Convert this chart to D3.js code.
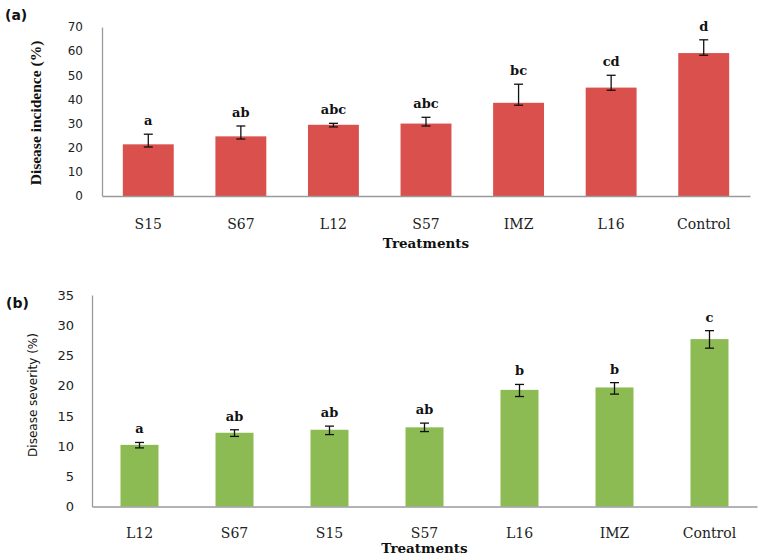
<!DOCTYPE html>
<html>
<head>
<meta charset="utf-8">
<script src="https://cdn.jsdelivr.net/npm/d3@7"></script>
<style>
  body { margin: 0; background: #fff; }
  svg { display: block; }
</style>
</head>
<body>
<div id="chart"></div>
<script>
/* Panel (a): disease incidence */
var catsA = ["S15", "S67", "L12", "S57", "IMZ", "L16", "Control"];
var valsA = [21.4, 24.7, 29.5, 30.0, 38.6, 44.9, 59.2];
var errLoA = [20.3, 23.6, 28.6, 29.0, 37.6, 43.8, 58.3];
var errHiA = [25.6, 29.0, 30.1, 32.6, 46.3, 50.0, 64.7];
var lettersA = ["a", "ab", "abc", "abc", "bc", "cd", "d"];
var ticksA = [0, 10, 20, 30, 40, 50, 60, 70];

/* Panel (b): disease severity */
var catsB = ["L12", "S67", "S15", "S57", "L16", "IMZ", "Control"];
var valsB = [10.2, 12.2, 12.7, 13.1, 19.3, 19.7, 27.7];
var errLoB = [9.7, 11.6, 11.9, 12.4, 18.2, 18.6, 26.2];
var errHiB = [10.6, 12.7, 13.3, 13.8, 20.2, 20.5, 29.1];
var lettersB = ["a", "ab", "ab", "ab", "b", "b", "c"];
var ticksB = [0, 5, 10, 15, 20, 25, 30, 35];

var svg = d3.select("#chart").append("svg")
    .attr("width", 762)
    .attr("height", 559);

function drawPanel(p)
{
    var rows = p.cats.map(function(c, i) {
        return { cat: c, v: p.vals[i], lo: p.lo[i], hi: p.hi[i], letter: p.letters[i] };
    });

    var x = d3.scaleBand()
        .domain(p.cats)
        .range([p.left, p.right])
        .paddingInner(p.pad)
        .paddingOuter(p.pad / 2);

    var y = d3.scaleLinear()
        .domain([0, p.max])
        .range([p.bottom, p.top]);

    var g = svg.append("g");

    // bars
    g.selectAll(".bar")
        .data(rows)
        .enter().append("rect")
        .attr("class", "bar")
        .attr("x", function(d) { return x(d.cat); })
        .attr("y", function(d) { return y(d.v); })
        .attr("width", x.bandwidth())
        .attr("height", function(d) { return y(0) - y(d.v); })
        .style("fill", p.color);

    // y axis
    var yAxis = g.append("g")
        .attr("transform", "translate(" + p.left + ",0)")
        .call(d3.axisLeft(y).tickValues(p.ticks).tickSize(0).tickPadding(p.tickPad));
    yAxis.select(".domain").attr("stroke", "#9a9a9a").attr("stroke-width", 1.3);
    yAxis.selectAll("text")
        .style("font-family", "'DejaVu Sans', Verdana, sans-serif")
        .style("font-size", p.tickFont)
        .style("fill", "#222");

    // x axis
    var xAxis = g.append("g")
        .attr("transform", "translate(0," + p.bottom + ")")
        .call(d3.axisBottom(x).tickSize(0).tickPadding(0));
    xAxis.select(".domain").attr("stroke", "#9a9a9a").attr("stroke-width", 1.3);
    xAxis.selectAll("text")
        .attr("dy", null)
        .attr("y", p.catBase - p.bottom)
        .style("font-family", "'DejaVu Serif', Cambria, serif")
        .style("font-size", "14px")
        .style("fill", "#222");

    // error bars
    var cap = 4.5;
    var eb = g.selectAll(".err")
        .data(rows)
        .enter().append("g")
        .attr("class", "err")
        .attr("transform", function(d) { return "translate(" + (x(d.cat) + x.bandwidth() / 2) + ",0)"; });
    eb.append("line")
        .attr("y1", function(d) { return y(d.lo); })
        .attr("y2", function(d) { return y(d.hi); });
    eb.append("line")
        .attr("x1", -cap).attr("x2", cap)
        .attr("y1", function(d) { return y(d.lo); })
        .attr("y2", function(d) { return y(d.lo); });
    eb.append("line")
        .attr("x1", -cap).attr("x2", cap)
        .attr("y1", function(d) { return y(d.hi); })
        .attr("y2", function(d) { return y(d.hi); });
    eb.selectAll("line").style("stroke", "#111").style("stroke-width", 1.3);

    // significance letters
    g.selectAll(".letter")
        .data(rows)
        .enter().append("text")
        .attr("class", "letter")
        .attr("x", function(d) { return x(d.cat) + x.bandwidth() / 2; })
        .attr("y", function(d) { return y(d.hi) - 9; })
        .attr("text-anchor", "middle")
        .style("font-family", "'DejaVu Serif', Cambria, serif")
        .style("font-weight", "bold")
        .style("font-size", "13px")
        .style("fill", "#111")
        .text(function(d) { return d.letter; });

    // x title
    g.append("text")
        .attr("x", (p.left + p.right) / 2)
        .attr("y", p.xTitleBase)
        .attr("text-anchor", "middle")
        .style("font-family", "'DejaVu Serif', Cambria, serif")
        .style("font-weight", "bold")
        .style("font-size", "13.5px")
        .style("fill", "#111")
        .text("Treatments");

    // y title
    g.append("text")
        .attr("transform", "translate(" + p.yTitleX + "," + p.yTitleY + ") rotate(-90)")
        .attr("text-anchor", "middle")
        .style("font-family", p.yTitleFont)
        .style("font-weight", p.yTitleWeight)
        .style("font-size", p.yTitleSize)
        .style("fill", "#111")
        .text(p.yTitle);

    // panel tag
    g.append("text")
        .attr("x", p.tagX)
        .attr("y", p.tagY)
        .style("font-family", "'DejaVu Sans', Verdana, sans-serif")
        .style("font-weight", "bold")
        .style("font-size", "14px")
        .style("fill", "#111")
        .text(p.tag);
}

drawPanel({
    cats: catsA, vals: valsA, lo: errLoA, hi: errHiA, letters: lettersA, ticks: ticksA,
    max: 70, left: 102, right: 750, top: 27, bottom: 196, pad: 0.45,
    color: "#d9504d", tickPad: 19, tickFont: "12px", catBase: 229, xTitleBase: 248,
    yTitle: "Disease incidence (%)", yTitleX: 41, yTitleY: 113,
    yTitleFont: "'Liberation Serif', 'Times New Roman', serif", yTitleWeight: "bold", yTitleSize: "15.5px",
    tag: "(a)", tagX: 5, tagY: 20
});

drawPanel({
    cats: catsB, vals: valsB, lo: errLoB, hi: errHiB, letters: lettersB, ticks: ticksB,
    max: 35, left: 92, right: 757, top: 295, bottom: 506.5, pad: 0.6,
    color: "#8dbb53", tickPad: 18, tickFont: "13px", catBase: 538, xTitleBase: 553,
    yTitle: "Disease severity (%)", yTitleX: 37, yTitleY: 395,
    yTitleFont: "'DejaVu Sans', Verdana, sans-serif", yTitleWeight: "normal", yTitleSize: "12px",
    tag: "(b)", tagX: 6, tagY: 308
});
</script>
</body>
</html>
